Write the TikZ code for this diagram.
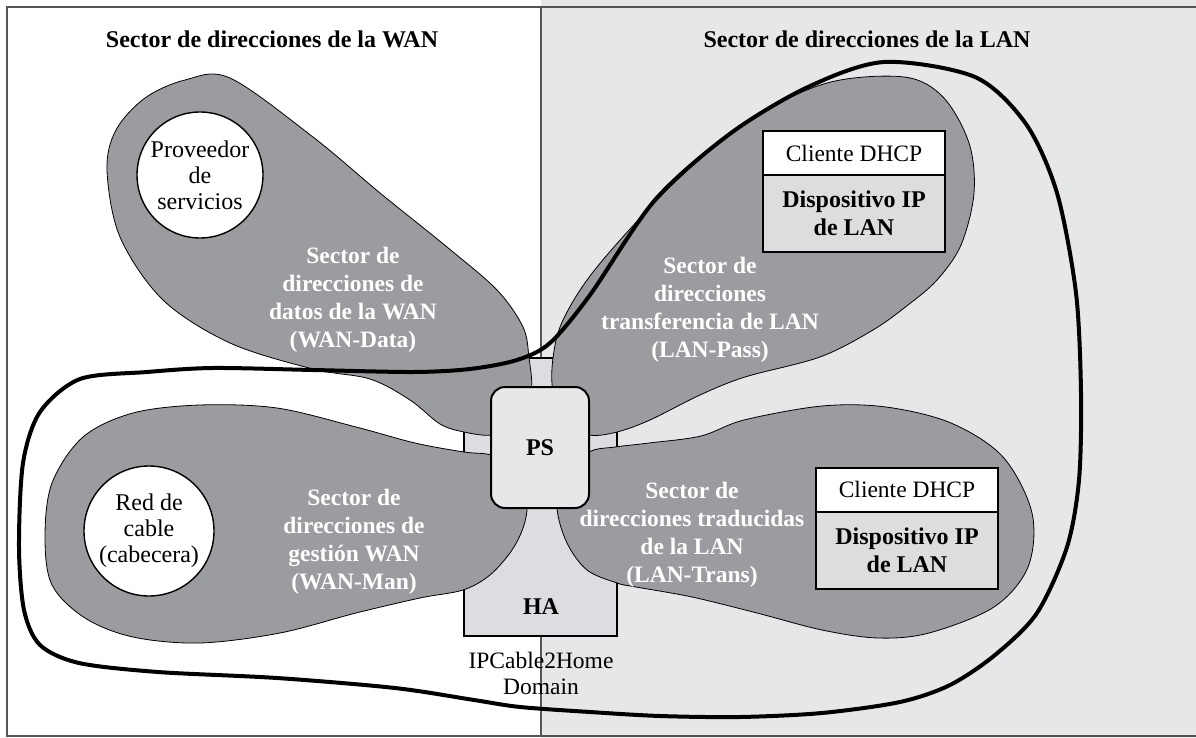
\documentclass[tikz,border=0pt]{standalone}
\usepackage{fontspec}
\setmainfont{Liberation Serif}
\definecolor{lanbg}{HTML}{E6E7E9}
\definecolor{petal}{HTML}{9B9CA0}
\definecolor{hafill}{HTML}{DCDDE0}
\definecolor{devfill}{HTML}{DCDDDF}
\definecolor{framegray}{HTML}{555555}
\begin{document}
\begin{tikzpicture}[x=1pt,y=-1pt,
  petalshape/.style={fill=petal,draw=black,line width=0.8pt},
  petaltext/.style={text=white,font=\fontsize{23.5}{28}\selectfont\bfseries,align=center,inner sep=0pt},
  titletext/.style={font=\fontsize{24}{27}\selectfont\bfseries,inner sep=0pt},
  plaintext/.style={font=\fontsize{23.5}{26}\selectfont,align=center,inner sep=0pt},
  hostcircle/.style={circle,fill=white,draw=black,line width=1.4pt,minimum size=#1,inner sep=0pt,
    font=\fontsize{24}{26}\selectfont,align=center},
  devtop/.style={rectangle,draw=black,line width=2pt,fill=white,minimum width=182pt,minimum height=44pt,
    inner sep=0pt,font=\fontsize{23.5}{27}\selectfont},
  devbottom/.style={rectangle,draw=black,line width=2pt,fill=devfill,minimum width=182pt,minimum height=77pt,
    inner sep=0pt,align=center,font=\fontsize{24}{28}\selectfont\bfseries},
  psbox/.style={rectangle,rounded corners=14pt,draw=black,line width=2pt,fill=lanbg,
    minimum width=98pt,minimum height=121pt,inner sep=0pt,font=\fontsize{24}{28}\selectfont\bfseries},
  habox/.style={rectangle,draw=black,line width=1.3pt,fill=hafill,minimum width=153pt,minimum height=278pt,inner sep=0pt},
  domainloop/.style={draw=black,line width=4pt},
]
\useasboundingbox (0,0) rectangle (1196,738);

% panels
\fill[white] (0,0) rectangle (541,738);
\fill[lanbg] (541,0) rectangle (1196,738);
\draw[framegray,line width=1.2pt] (1196,7) -- (7,7) -- (7,736) -- (1196,736);
\draw[framegray,line width=1.2pt] (541,7) -- (541,736);

\node[titletext,anchor=base] (wantitle) at (272,48) {Sector de direcciones de la WAN};
\node[titletext,anchor=base] (lantitle) at (867,48) {Sector de direcciones de la LAN};

% home device body (HA) behind the petals
\node[habox] (ha) at (540.5,497) {};

% WAN-Data petal
\draw[petalshape] plot[smooth cycle,tension=0.55] coordinates {
  (230,78) (313,137) (380,193) (447,247) (497,290) (523,327) (529,358)
  (531,392) (515,425) (491,435) (464,432) (440,424) (410,400) (370,379)
  (313,369) (230,343) (163,300) (120,237) (107,170) (116,130) (145,98) (185,80)};

% WAN-Man petal
\draw[petalshape] plot[smooth cycle,tension=0.55] coordinates {
  (527,500) (518,468) (491,455) (464,452) (415,443) (356,427) (277,408)
  (200,405) (133,413) (83,437) (52,483) (45,537) (52,585) (85,618)
  (133,637) (200,643) (280,633) (356,613) (420,598) (463,590) (490,575)
  (512,550) (524,525)};

% LAN-Pass petal
\draw[petalshape] plot[smooth cycle,tension=0.55] coordinates {
  (553,358) (563,320) (597,267) (674,183) (750,120) (827,83) (904,77)
  (943,97) (969,143) (974,193) (961,245) (937,280) (908,305) (873,330)
  (820,357) (745,377) (700,395) (650,420) (617,432) (589,435) (565,422)
  (553,392)};

% LAN-Trans petal
\draw[petalshape] plot[smooth cycle,tension=0.55] coordinates {
  (589,452) (615,447) (649,443) (701,436) (744,420) (822,406) (886,407)
  (951,423) (1003,457) (1032,513) (1028,567) (994,607) (929,633) (878,638)
  (822,630) (757,613) (692,597) (636,587) (617,583) (587,570) (567,543)
  (557,508) (563,475)};

% end hosts
\node[hostcircle=126pt] (provider) at (200,175) {Proveedor\\de\\servicios};
\node[hostcircle=130pt] (cablenet) at (149,531) {Red de\\cable\\(cabecera)};

% LAN IP devices
\node[devtop] (dhcpa) at (854,153) {Cliente DHCP};
\node[devbottom] (deva) at (854,213.5) {Dispositivo IP\\de LAN};
\node[devtop] (dhcpb) at (907,489.5) {Cliente DHCP};
\node[devbottom] (devb) at (907,550) {Dispositivo IP\\de LAN};

% realm labels
\node[petaltext] (wandata) at (353,300) {Sector de\\direcciones de\\datos de la WAN\\(WAN-Data)};
\node[petaltext] (lanpass) at (710,310) {Sector de\\direcciones\\transferencia de LAN\\(LAN-Pass)};
\node[petaltext] (wanman) at (354,542) {Sector de\\direcciones de\\gestión WAN\\(WAN-Man)};
\node[petaltext] (lantrans) at (692,535) {Sector de\\direcciones traducidas\\de la LAN\\(LAN-Trans)};

% portal services and home address elements
\node[psbox] (ps) at (540,447.5) {PS};
\node[font=\fontsize{24}{28}\selectfont\bfseries,inner sep=0pt] (halabel) at (541,607) {HA};
\node[plaintext] (domain) at (541,673) {IPCable2Home\\Domain};

% IPCable2Home domain boundary
\draw[domainloop] plot[smooth cycle,tension=0.5] coordinates {
  (80,379) (147,372) (213,368) (313,370) (413,372) (470,369) (517,360)
  (550,343) (590,295) (655,200) (731,133) (808,87) (884,62) (975,77)
  (1026,124) (1057,193) (1076,293) (1081,393) (1079,480) (1067,547)
  (1037,613) (995,655) (950,685) (900,702) (822,713) (740,717) (660,716)
  (590,712) (520,707) (474,700) (395,688) (277,678) (158,672) (79,663)
  (40,645) (24,610) (19,547) (23,463) (40,412)};
\end{tikzpicture}
\end{document}
